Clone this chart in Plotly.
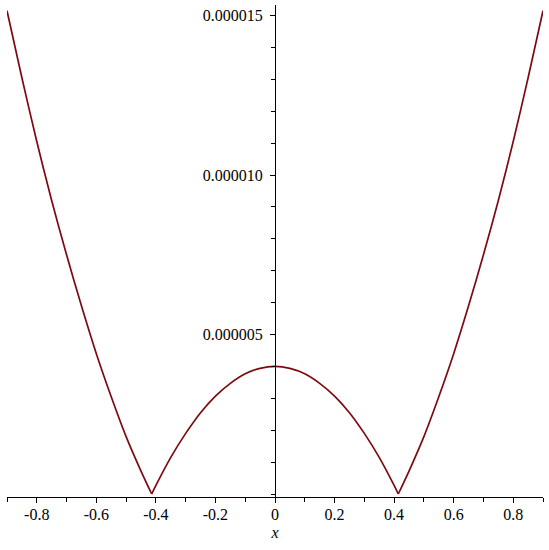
import plotly.graph_objects as go

# values (y in units of 1e-6)
x_left = [-0.9, -0.85, -0.8, -0.75, -0.7, -0.65, -0.6, -0.55, -0.5, -0.45, -0.414]
y_left = [15.15, 13.05, 11.05, 9.2, 7.5, 5.9, 4.4, 3.05, 1.8, 0.72, 0.0]
x_mid = [-0.414, -0.4, -0.35, -0.3, -0.25, -0.2, -0.15, -0.1, -0.05, 0.0,
         0.05, 0.1, 0.15, 0.2, 0.25, 0.3, 0.35, 0.4, 0.414]
y_mid = [0.0, 0.27, 1.15, 1.9, 2.55, 3.07, 3.47, 3.77, 3.94, 4.0,
         3.94, 3.77, 3.47, 3.07, 2.55, 1.9, 1.15, 0.27, 0.0]
x_right = [0.414, 0.45, 0.5, 0.55, 0.6, 0.65, 0.7, 0.75, 0.8, 0.85, 0.9]
y_right = [0.0, 0.72, 1.8, 3.05, 4.4, 5.9, 7.5, 9.2, 11.05, 13.05, 15.15]

x_tickvals = [-0.8, -0.6, -0.4, -0.2, 0, 0.2, 0.4, 0.6, 0.8]
x_ticktext = ["-0.8", "-0.6", "-0.4", "-0.2", "0", "0.2", "0.4", "0.6", "0.8"]
x_minorvals = [-0.9, -0.7, -0.5, -0.3, -0.1, 0.1, 0.3, 0.5, 0.7, 0.9]
y_tickvals = [5e-6, 10e-6, 15e-6]
y_ticktext = ["0.000005", "0.000010", "0.000015"]

font = dict(family="Liberation Serif", size=16, color="black")
line_style = dict(color="#7d0a12", width=1.7, shape="spline", smoothing=0.8)

fig = go.Figure()
for xs, ys in [(x_left, y_left), (x_mid, y_mid), (x_right, y_right)]:
    fig.add_trace(go.Scatter(x=xs, y=[v * 1e-6 for v in ys], mode="lines",
                             line=line_style, hoverinfo="skip"))

fig.update_layout(
    width=549, height=550,
    margin=dict(l=7, r=6, t=5, b=53),
    paper_bgcolor="white", plot_bgcolor="white",
    showlegend=False,
    font=font,
    xaxis=dict(range=[-0.9, 0.9], domain=[0, 1],
               showgrid=False, zeroline=False,
               showline=True, linecolor="black", linewidth=1,
               ticks="outside", ticklen=5, tickcolor="black",
               tickvals=x_tickvals, ticktext=x_ticktext,
               tickfont=font, ticklabelstandoff=-2,
               minor=dict(tickvals=x_minorvals,
                          ticks="outside", ticklen=4, tickcolor="black"),
               title=dict(text="<i>x</i>", font=font, standoff=4)),
    yaxis=dict(range=[-0.094e-6, 15.33e-6], anchor="free", position=0.5,
               showgrid=False, zeroline=False,
               showline=True, linecolor="black", linewidth=1,
               ticks="outside", ticklen=5, tickcolor="black",
               tickvals=y_tickvals, ticktext=y_ticktext,
               tickfont=font, ticklabelstandoff=4,
               minor=dict(dtick=1e-6, tick0=0, ticks="outside", ticklen=4,
                          tickcolor="black")),
)

fig.write_html("out.html", config={"displayModeBar": False},
               post_script="document.body.style.margin='0';")
